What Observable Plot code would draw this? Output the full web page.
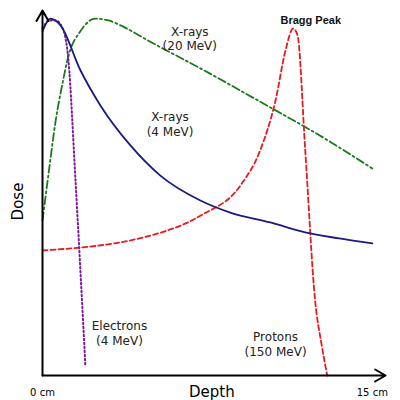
<!DOCTYPE html>
<html>
<head>
<script src="https://cdn.jsdelivr.net/npm/d3@7"></script>
<script src="https://cdn.jsdelivr.net/npm/@observablehq/plot@0.6"></script>
<style>body{margin:0;background:#fff;font-family:"DejaVu Sans",sans-serif}</style>
</head>
<body>
<div id="plot"></div>
<script>
// depth in cm, relative dose
const xray4Depth = [0, 0.36, 0.82, 1.73, 2.64, 4, 5.36, 7.18, 8.54, 10.36, 11.95, 13.5, 15];
const xray4Dose = [97, 100.5, 98.6, 85.9, 76, 64.8, 56.3, 49.3, 45.9, 43.1, 40.3, 38.6, 37.2];
const xray20Depth = [0, 0.3, 0.6, 0.9, 1.18, 1.73, 2.4, 3.0, 3.55, 4.9, 7.18, 10.36, 12.5, 15];
const xray20Dose = [43.7, 58, 71.8, 82, 90, 97, 100.5, 100, 98.6, 94, 86.5, 75.5, 68, 58.3];
const elecDepth = [0, 0.3, 0.6, 0.9, 1.18, 1.5, 1.95];
const elecDose = [97.7, 100, 100, 98, 88.7, 55, 2.8];
const protDepth = [0, 4.9, 7.18, 9, 9.9, 10.6, 11.05, 11.4, 11.6, 11.95, 12.4, 12.7, 12.95];
const protDose = [35.2, 39.4, 45, 53.5, 63.4, 77.5, 91.5, 97.7, 95.8, 63.4, 21, 8.5, 0];
const labels = [
  {x: 6.7, y: 95, t: "X-rays\n(20 MeV)"},
  {x: 5.8, y: 71, t: "X-rays\n(4 MeV)"},
  {x: 3.5, y: 12, t: "Electrons\n(4 MeV)"},
  {x: 10.6, y: 9, t: "Protons\n(150 MeV)"}
];
const toRows = (xs, ys) => xs.map((x, i) => ({x, y: ys[i]}));

const plot = Plot.plot({
  width: 400, height: 400,
  marginLeft: 42, marginRight: 15, marginTop: 10, marginBottom: 25,
  x: {domain: [0, 15.6], axis: null},
  y: {domain: [0, 102.8], axis: null},
  style: {fontFamily: "DejaVu Sans, sans-serif"},
  marks: [
    Plot.line(toRows(xray20Depth, xray20Dose), {x: "x", y: "y", curve: "monotone-x", stroke: "#1a7a1a", strokeWidth: 1.8, strokeDasharray: "8,3,2,3"}),
    Plot.line(toRows(protDepth, protDose), {x: "x", y: "y", curve: "monotone-x", stroke: "#e8191c", strokeWidth: 1.8, strokeDasharray: "5,3"}),
    Plot.line(toRows(elecDepth, elecDose), {x: "x", y: "y", curve: "monotone-x", stroke: "#7a1a9a", strokeWidth: 2, strokeDasharray: "1.5,2.5"}),
    Plot.line(toRows(xray4Depth, xray4Dose), {x: "x", y: "y", curve: "monotone-x", stroke: "#1a1a80", strokeWidth: 1.8}),
    Plot.arrow([{x1: 0, y1: 0, x2: 15.6, y2: 0}, {x1: 0, y1: 0, x2: 0, y2: 102.8}],
      {x1: "x1", y1: "y1", x2: "x2", y2: "y2", stroke: "black", strokeWidth: 2, headLength: 9}),
    Plot.text(labels, {x: "x", y: "y", text: "t", fontSize: 12, fill: "#222", lineHeight: 1.25}),
    Plot.text(["Bragg Peak"], {x: 12.2, y: 100, text: d => d, fontSize: 11, fontWeight: "bold", fill: "#111", fontFamily: "Liberation Sans"}),
    Plot.text(["0 cm", "15 cm"], {x: [0, 15], y: [0, 0], text: d => d, dy: 17, fontSize: 10}),
    Plot.text(["Depth"], {x: 7.7, y: 0, text: d => d, dy: 17, fontSize: 15}),
    Plot.text(["Dose"], {x: 0, y: 49, text: d => d, dx: -24, rotate: -90, fontSize: 15})
  ]
});
document.getElementById("plot").append(plot);
</script>
</body>
</html>
